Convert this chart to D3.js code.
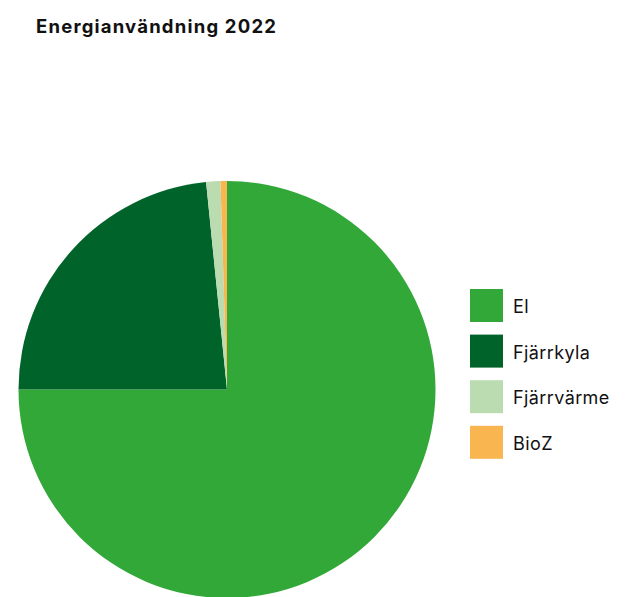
<!DOCTYPE html>
<html>
<head>
<meta charset="utf-8">
<script src="https://cdn.jsdelivr.net/npm/d3@7"></script>
<style>
  html, body { margin: 0; padding: 0; background: #fff; }
  svg { display: block; }
</style>
</head>
<body>
<svg id="chart" width="642" height="597"></svg>
<script>
// Energy use 2022, share per energy type (%)
const categories = ["El", "Fjärrkyla", "Fjärrvärme", "BioZ"];
const values = [75.0, 23.4, 1.1, 0.5];
const colors = ["#31a838", "#00632a", "#bbdcb0", "#f9b550"];
const title = "Energianvändning 2022";

const svg = d3.select("#chart");
const font = "Inter, 'Liberation Sans', Arial, sans-serif";

svg.append("text")
  .attr("x", 36)
  .attr("y", 33)
  .attr("font-family", font)
  .attr("font-weight", 700)
  .attr("font-size", 18.5)
  .attr("letter-spacing", 1.2)
  .attr("fill", "#111")
  .text(title);

const data = categories.map((c, i) => ({ name: c, value: values[i] }));
const color = d3.scaleOrdinal().domain(categories).range(colors);

const pie = d3.pie().value(d => d.value).sort(null);
const radius = 208.5;
const arc = d3.arc().innerRadius(0).outerRadius(radius);

const g = svg.append("g").attr("transform", "translate(227,389.5)");
g.selectAll("path")
  .data(pie(data))
  .join("path")
  .attr("d", arc)
  .attr("fill", d => color(d.data.name));

// Legend
const legend = svg.append("g").attr("transform", "translate(470,289)");
const item = legend.selectAll("g")
  .data(categories)
  .join("g")
  .attr("transform", (d, i) => `translate(0,${i * 45.6})`);
item.append("rect")
  .attr("width", 33)
  .attr("height", 33)
  .attr("fill", d => color(d));
item.append("text")
  .attr("x", 43)
  .attr("y", 17.5)
  .attr("dy", "0.36em")
  .attr("font-family", font)
  .attr("font-size", 18)
  .attr("letter-spacing", 0.4)
  .attr("fill", "#111")
  .text(d => d);
</script>
</body>
</html>
